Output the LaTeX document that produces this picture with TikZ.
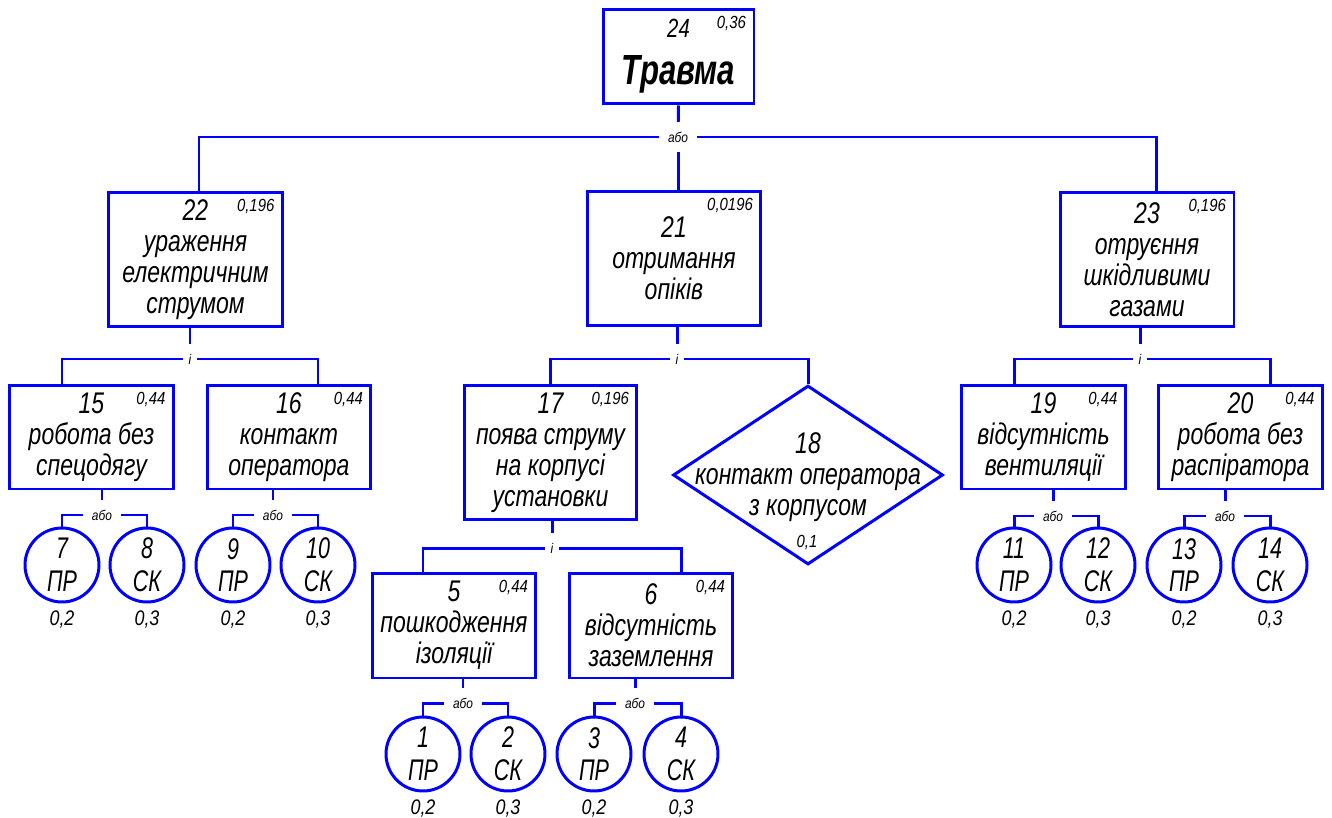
\documentclass[tikz,border=0pt]{standalone}
\usepackage{fontspec}
\setmainfont[FakeStretch=0.77]{Liberation Sans}
\newfontfamily\titlefont[FakeStretch=0.74]{Liberation Sans}
\newfontfamily\circfont[FakeStretch=0.72]{Liberation Sans}
\newfontfamily\smallfont[FakeStretch=0.85]{Liberation Sans}
\usetikzlibrary{positioning,shapes.geometric}
\definecolor{FtaBlue}{RGB}{0,0,255}
\tikzset{
  wire/.style={draw=FtaBlue, line width=1.7pt},
  evbox/.style={draw=FtaBlue, line width=1.7pt, fill=white, inner sep=2pt, align=center,
    font=\fontsize{17}{17.6}\selectfont\itshape},
  midbox/.style={evbox, minimum width=3.48cm, minimum height=2.7cm},
  lowbox/.style={evbox, minimum width=3.28cm, minimum height=2.08cm},
  basic/.style={circle, draw=FtaBlue, line width=1.7pt, fill=white, minimum size=1.48cm,
    inner sep=0pt, align=center, font=\circfont\fontsize{17}{18.7}\selectfont\itshape},
  condbox/.style={diamond, draw=FtaBlue, line width=1.7pt, fill=white, inner sep=0pt,
    minimum width=5.4cm, minimum height=3.58cm},
  corner/.style={anchor=north east, inner sep=1pt, font=\smallfont\fontsize{10}{11}\selectfont\itshape},
  problbl/.style={inner sep=1pt, font=\smallfont\fontsize{12}{13}\selectfont\itshape},
  gatelbl/.style={fill=white, inner xsep=0.18cm, inner ysep=0.2cm, font=\smallfont\fontsize{8}{9}\selectfont\itshape},
}
\begin{document}
\begin{tikzpicture}[x=0.02cm, y=-0.02cm]
  \useasboundingbox (0,0) rectangle (1332,818);
  % events
  \node[evbox, minimum width=3.02cm, minimum height=1.9cm] (b24) at (678.5,56.5)
    {\fontsize{15}{17}\selectfont 24\\[9pt]{\titlefont\bfseries\fontsize{24}{26}\selectfont Травма}};
  \node[midbox] (b22) at (195.5,259.5) {22\\ураження\\електричним\\струмом};
  \node[midbox] (b21) at (674,258.5) {21\\отримання\\опіків};
  \node[midbox] (b23) at (1147,259.5) {23\\отруєння\\шкідливими\\газами};
  \node[lowbox] (b15) at (91.5,437) {15\\робота без\\спецодягу};
  \node[lowbox] (b16) at (289,437) {16\\контакт\\оператора};
  \node[midbox, minimum width=3.46cm] (b17) at (550.5,452.5) {17\\поява струму\\на корпусі\\установки};
  \node[condbox] (d18) at (808,475) {};
  \node[evbox, draw=none, fill=none] (t18) at (808,477) {18\\контакт оператора\\з корпусом};
  \node[corner, anchor=center] (p18) at (807,542) {0,1};
  \node[lowbox] (b19) at (1043.5,437) {19\\відсутність\\вентиляції};
  \node[lowbox] (b20) at (1240.5,437) {20\\робота без\\распіратора};
  \node[lowbox, minimum height=2.1cm] (b5) at (454,625.5) {5\\пошкодження\\ізоляції};
  \node[lowbox, minimum height=2.1cm] (b6) at (651,625.5) {6\\відсутність\\заземлення};
  \foreach \b/\p in {b24/{0,36}, b22/{0,196}, b21/{0,0196}, b23/{0,196}, b15/{0,44}, b16/{0,44},
    b17/{0,196}, b19/{0,44}, b20/{0,44}, b5/{0,44}, b6/{0,44}}
    \node[corner] at ([xshift=-0.15cm,yshift=-0.13cm]\b.north east) {\p};
  % basic events
  \foreach \n/\x/\y in {7/62/565, 9/233/565, 11/1014/565, 13/1184/565, 1/423/754, 3/594/754}{
    \node[basic] (c\n) at (\x,\y) {\n\\ПР};
    \node[problbl, below=0.1cm of c\n] {0,2};
  }
  \foreach \n/\x/\y in {8/147/565, 10/318/565, 12/1098/565, 14/1270/565, 2/508/754, 4/681/754}{
    \node[basic] (c\n) at (\x,\y) {\n\\СК};
    \node[problbl, below=0.1cm of c\n] {0,3};
  }
  % gates
  \foreach \g/\x/\y in {24/678/137, 22/190/359, 21/677/359, 23/1140/359, 17/552/548,
    15/102/515, 16/273/515, 19/1053/516, 20/1225/516, 5/463/703, 6/635/703}
    \coordinate (g\g) at (\x,\y);
  \draw[wire] (b24.south) -- (g24);
  \draw[wire] ([xshift=0.07cm]b22.north) |- (g24) -| ([xshift=0.18cm]b23.north);
  \draw[wire] (g24) -- (g24 |- b21.north);
  \draw[wire] (b22.south -| g22) -- (g22);
  \draw[wire] (b15.north -| c7) |- (g22) -| (b16.north -| c10);
  \draw[wire] (b21.south -| g21) -- (g21);
  \draw[wire] (b17.north) |- (g21) -| (d18.north);
  \draw[wire] (b23.south -| g23) -- (g23);
  \draw[wire] (b19.north -| c11) |- (g23) -| (b20.north -| c14);
  \draw[wire] (b17.south -| g17) -- (g17);
  \draw[wire] (b5.north -| c1) |- (g17) -| (b6.north -| c4);
  \foreach \g/\l/\r in {15/7/8, 16/9/10, 19/11/12, 20/13/14, 5/1/2, 6/3/4}{
    \draw[wire] (b\g.south -| g\g) -- (g\g);
    \draw[wire] (c\l.north) |- (g\g) -| (c\r.north);
  }
  \foreach \g in {22,21,23,17} \node[gatelbl, inner xsep=0.12cm] at (g\g) {і};
  \foreach \g in {24,15,16,19,20,5,6} \node[gatelbl] at (g\g) {або};
\end{tikzpicture}
\end{document}
